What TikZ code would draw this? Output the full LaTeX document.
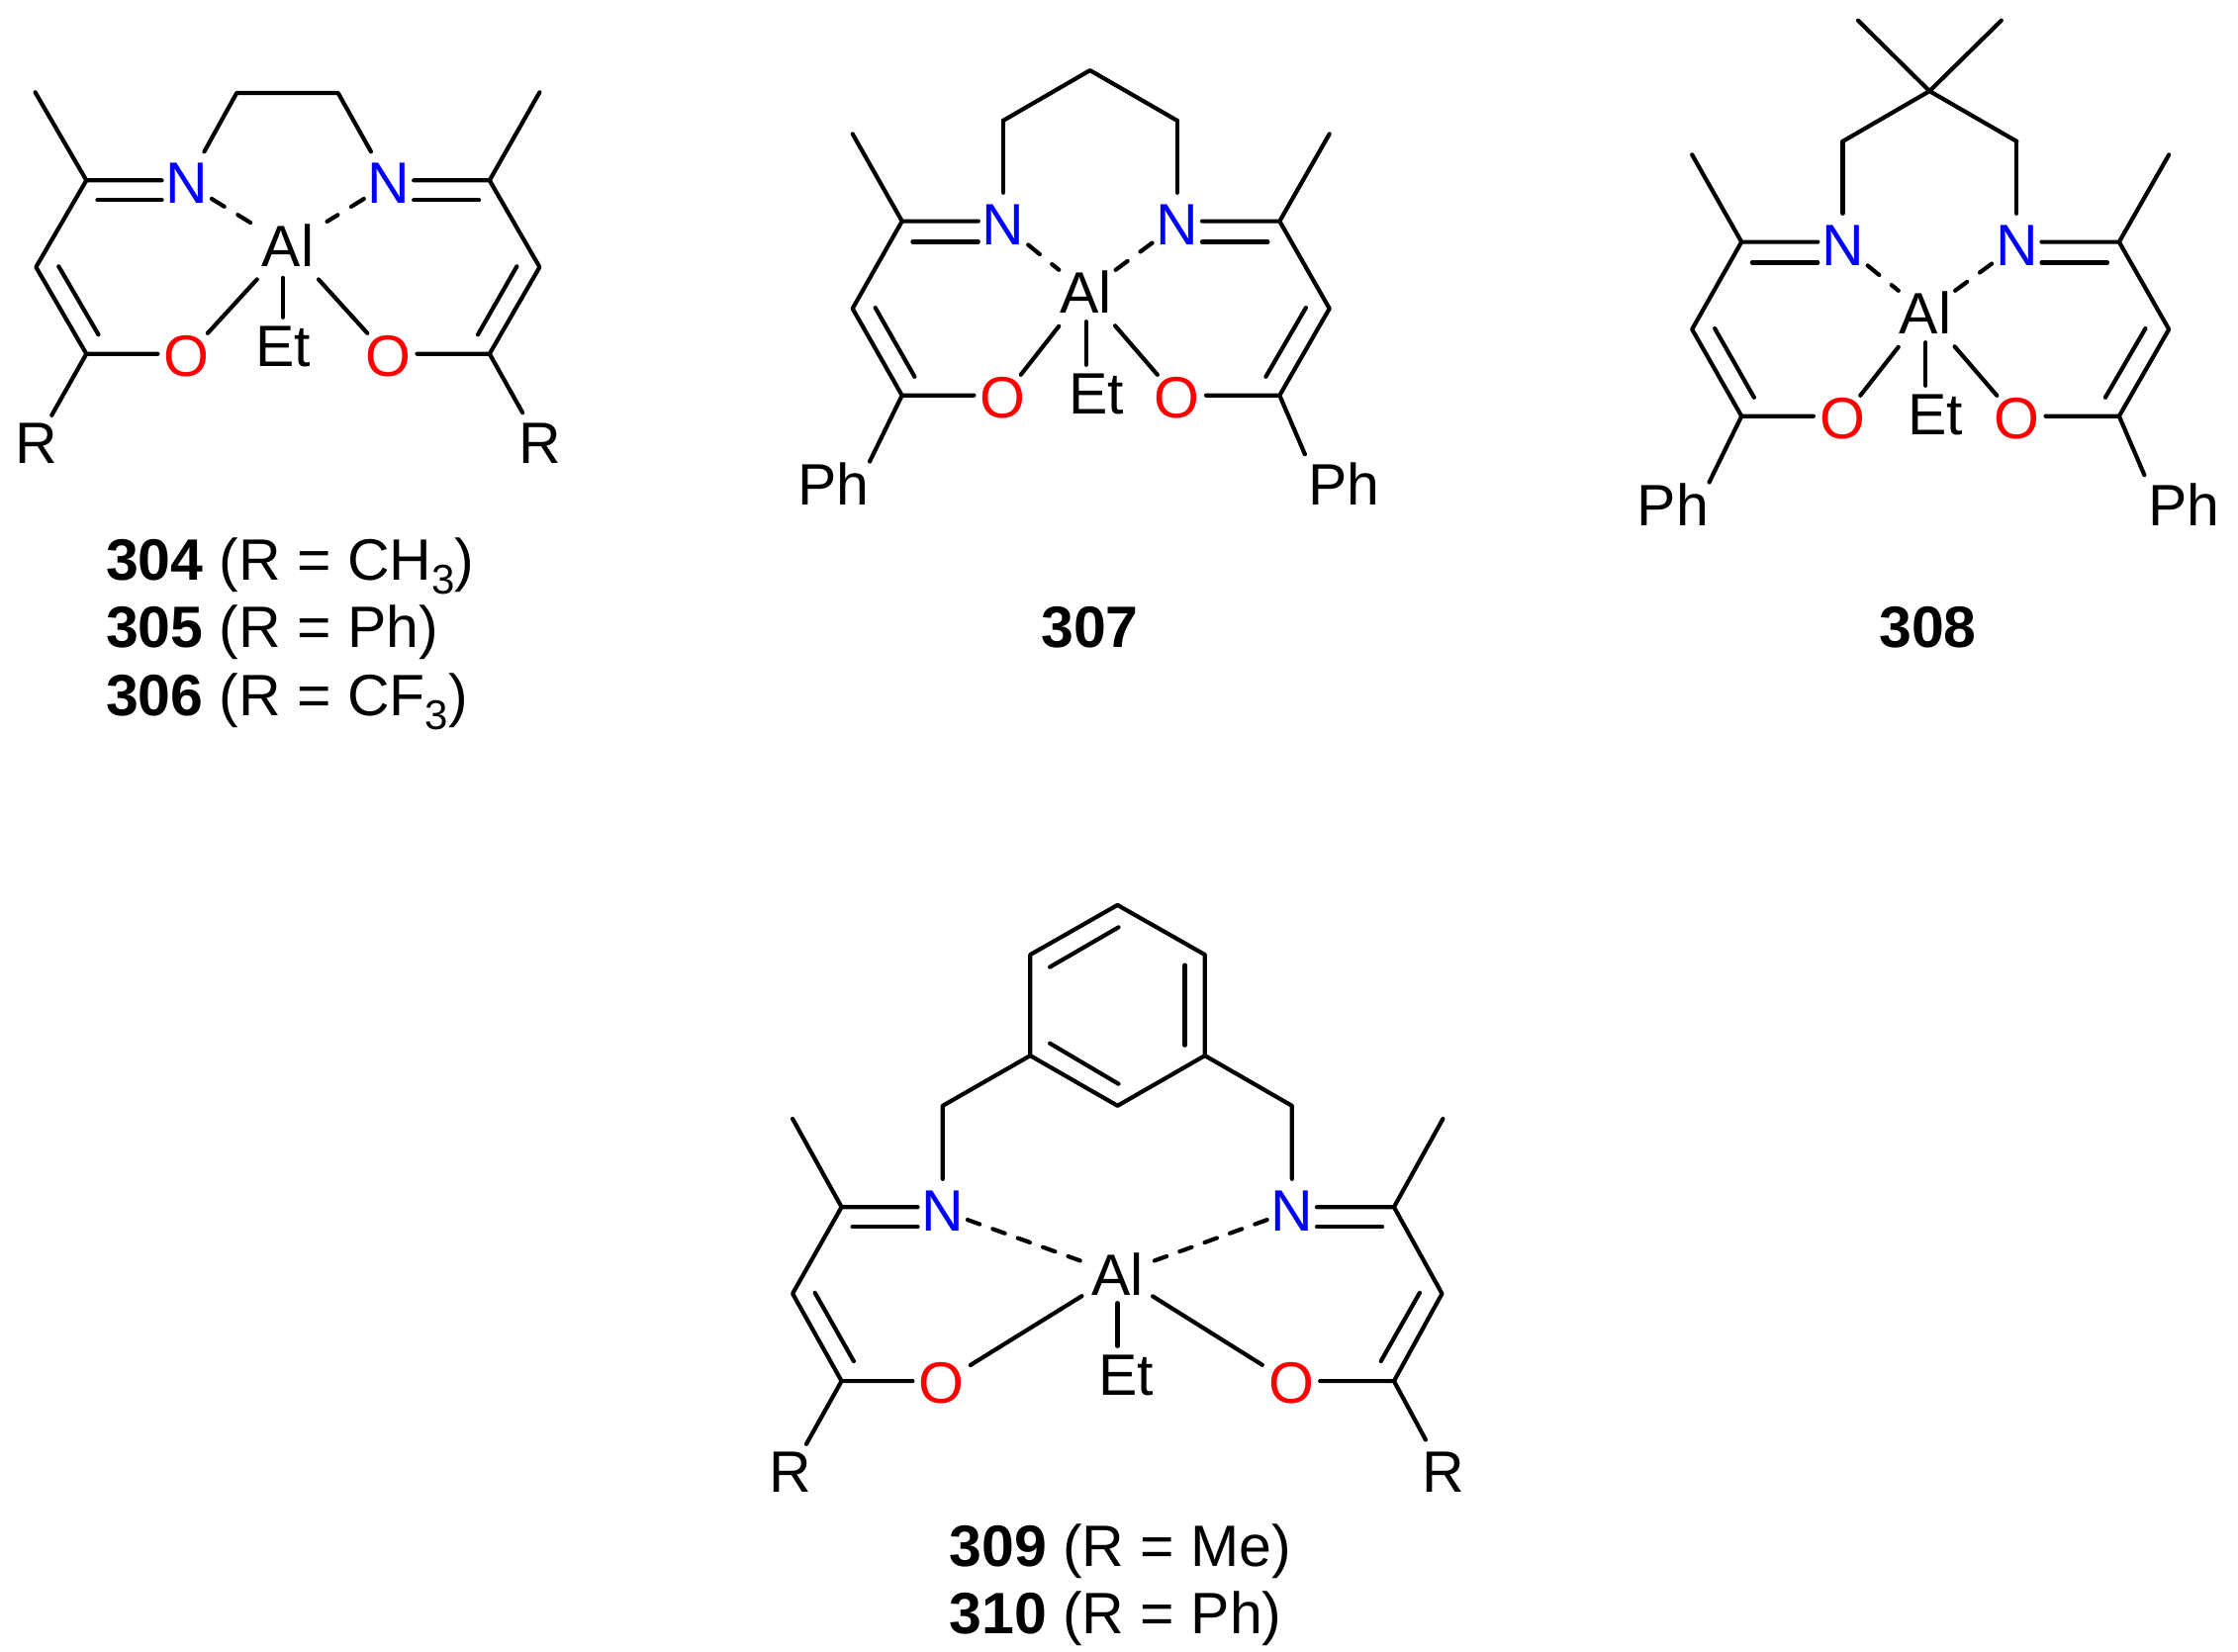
\documentclass[tikz,border=0pt]{standalone}
\usepackage{fontspec}
\setmainfont{Liberation Sans}
\newcommand\subs[1]{\raisebox{-0.24em}{\fontsize{42}{42}\selectfont #1}}
\tikzset{
  bond/.style={line width=4.2pt,line cap=round,line join=round,black},
  dbond/.style={bond,dash pattern=on 15pt off 16pt},
  atom/.style={inner sep=0pt,font=\fontsize{59}{60}\selectfont},
  natom/.style={atom,text=blue,minimum width=50pt,minimum height=64pt},
  oatom/.style={atom,text=red,minimum width=58pt,minimum height=46pt},
  ratom/.style={atom,minimum height=56pt},
  phatom/.style={atom,minimum width=71pt,minimum height=42pt},
  etatom/.style={atom,minimum height=58pt},
  label/.style={inner sep=0pt,font=\fontsize{59}{60}\selectfont},
}
% one arm of the ligand: prefix, side, side of the atom box, far-end target, style of that bond
\newcommand\onearm[5]{
  \draw[bond] (#1me#2) -- (#1c#2) -- (#1c#2 -| #1n#2.#3);
  \draw[bond] (#1i#2) -- (#1i#2 -| #1n#2.#3);
  \draw[bond] (#1c#2) -- (#1h#2) -- (#1d#2) -- (#1d#2 -| #1o#2.#3);
  \draw[bond] (#1s#2) -- (#1t#2);
  \draw[bond,#5] (#1d#2) -- (#4);
  \draw[dbond,dash#2] (#1n#2) -- (#1al);
  \draw[bond,alo] (#1al) -- (#1o#2);
}
\newcommand\ethyl[1]{\draw[bond,ale] (#1k |- #1al.south) -- (#1k |- #1et.north);}
% the two propane-type ligands (307 and 308) share all positions
\newcommand\phmol[1]{
  \coordinate (#1me1) at (1710.2,156.4);
  \coordinate (#1c1) at (1760.2,244.6);
  \coordinate (#1i1) at (1770.9,265.4);
  \coordinate (#1h1) at (1710.2,332.9);
  \coordinate (#1d1) at (1760.2,420.7);
  \coordinate (#1s1) at (1733.2,332.1);
  \coordinate (#1t1) at (1772.9,401.8);
  \coordinate (#1me2) at (2192.2,156.4);
  \coordinate (#1c2) at (2141.8,244.6);
  \coordinate (#1i2) at (2129.9,265.4);
  \coordinate (#1h2) at (2192.2,332.9);
  \coordinate (#1d2) at (2141.8,420.7);
  \coordinate (#1s2) at (2168.4,332.1);
  \coordinate (#1t2) at (2127.9,401.8);
  \coordinate (#1p1) at (1862.5,142.9);
  \coordinate (#1p2) at (2038.3,142.9);
  \coordinate (#1k) at (1946.2,0);
  \node[natom] (#1n1) at (1862.5,248) {N};
  \node[natom] (#1n2) at (2038.3,248) {N};
  \node[oatom] (#1o1) at (1862.1,423) {O};
  \node[oatom] (#1o2) at (2038.3,423) {O};
  \node[atom,minimum width=60pt,minimum height=44pt] (#1al) at (1946,316) {Al};
  \node[etatom] (#1et) at (1956.4,419) {Et};
  \node[phatom] (#1r1) at (1690.8,510) {Ph};
  \node[phatom] (#1r2) at (2207.2,510) {Ph};
  \onearm{#1}{1}{west}{#1r1.north east}{shorten >=1pt}
  \onearm{#1}{2}{east}{#1r2.north west}{shorten >=9pt}
  \ethyl{#1}
  \draw[bond] (#1n1) -- (#1p1);
  \draw[bond] (#1n2) -- (#1p2);
}
\begin{document}
\begin{tikzpicture}[x=1pt,y=-1pt]
\path[use as bounding box,fill=white] (0,0) rectangle (2262,1670);

% ---------- 304-306
\begin{scope}[alo/.style={shorten <=17pt},ale/.style={shorten <=11pt},dash1/.style={},dash2/.style={shorten >=11pt}]
  \coordinate (ame1) at (35.6,93.3);
  \coordinate (ac1) at (87.3,182.3);
  \coordinate (ai1) at (98.4,202.3);
  \coordinate (ah1) at (36.4,270);
  \coordinate (ad1) at (87.3,357.7);
  \coordinate (as1) at (59.3,269.3);
  \coordinate (at1) at (99.5,338.3);
  \coordinate (ame2) at (545.4,93.3);
  \coordinate (ac2) at (494.8,182.3);
  \coordinate (ai2) at (484.1,202.3);
  \coordinate (ah2) at (545.4,270);
  \coordinate (ad2) at (494.8,357.7);
  \coordinate (as2) at (522.4,269.3);
  \coordinate (at2) at (483,338.3);
  \coordinate (ap1) at (239.2,94);
  \coordinate (ap2) at (341.7,94);
  \coordinate (ak) at (285.9,0);
  \node[natom] (an1) at (188.7,185.5) {N};
  \node[natom] (an2) at (393,185.5) {N};
  \node[oatom] (ao1) at (188.7,360) {O};
  \node[oatom] (ao2) at (392.3,360) {O};
  \node[atom,minimum width=60pt,minimum height=34pt] (aal) at (291,248.3) {Al};
  \node[etatom] (aet) at (286.5,350) {Et};
  \node[ratom] (ar1) at (36.4,448) {R};
  \node[ratom] (ar2) at (545.4,448) {R};
  \onearm{a}{1}{west}{ar1}{shorten >=0pt}
  \onearm{a}{2}{east}{ar2}{shorten >=3pt}
  \ethyl{a}
  \draw[bond] (an1) -- (ap1) -- (ap2) -- (an2);
\end{scope}
\node[label,anchor=base west] (la) at (106.8,586) {\textbf{304} (R = CH\subs{3})};
\node[label,anchor=base west] (lb) at (106.8,654) {\textbf{305} (R = Ph)};
\node[label,anchor=base west] (lc) at (106.8,723) {\textbf{306} (R = CF\subs{3})};

% ---------- 307
\begin{scope}[shift={(-848.5,-21)},alo/.style={shorten <=16pt},ale/.style={shorten <=8pt},dash1/.style={},dash2/.style={}]
  \phmol{b}
  \coordinate (bq) at (1950.2,92.1);
  \draw[bond] (bp1) -- (bq) -- (bp2);
\end{scope}
\node[label,anchor=base] (ld) at (1101.5,654) {\textbf{307}};

% ---------- 308
\begin{scope}[alo/.style={shorten <=16pt},ale/.style={shorten <=8pt},dash1/.style={},dash2/.style={}]
  \phmol{c}
  \coordinate (cq) at (1950.2,92.1);
  \coordinate (cm1) at (1878,20.7);
  \coordinate (cm2) at (2022.8,20.7);
  \draw[bond] (cp1) -- (cq) -- (cp2);
  \draw[bond] (cm1) -- (cq) -- (cm2);
\end{scope}
\node[label,anchor=base] (le) at (1948.5,654) {\textbf{308}};

% ---------- 309-310
\begin{scope}[alo/.style={shorten <=9pt},ale/.style={shorten <=7pt},dash1/.style={dash pattern=on 13pt off 14pt},dash2/.style={dash pattern=on 13pt off 14pt,shorten >=6pt}]
  \coordinate (dme1) at (801.1,1131);
  \coordinate (dc1) at (850.6,1220.2);
  \coordinate (di1) at (861.5,1240.2);
  \coordinate (dh1) at (801.1,1307.7);
  \coordinate (dd1) at (850.6,1396.1);
  \coordinate (ds1) at (823.7,1306.9);
  \coordinate (dt1) at (862.9,1376);
  \coordinate (dme2) at (1458.4,1131);
  \coordinate (dc2) at (1408.9,1220.2);
  \coordinate (di2) at (1397.1,1240.2);
  \coordinate (dh2) at (1457.5,1307.7);
  \coordinate (dd2) at (1408.9,1396.1);
  \coordinate (ds2) at (1434.9,1306.9);
  \coordinate (dt2) at (1395.7,1376);
  \coordinate (dk) at (1129.5,0);
  \coordinate (dp1) at (952.8,1117.8);
  \coordinate (dp2) at (1305.8,1117.8);
  \coordinate (rt) at (1129.5,914.9);
  \coordinate (rul) at (1041.3,965.1);
  \coordinate (rur) at (1217.8,965.1);
  \coordinate (rll) at (1041.3,1067.1);
  \coordinate (rlr) at (1217.8,1067.1);
  \coordinate (rb) at (1129.5,1117.8);
  \coordinate (ra1) at (1061.1,977.6);
  \coordinate (ra2) at (1130.5,937.4);
  \coordinate (rb1) at (1197.5,975.6);
  \coordinate (rb2) at (1197.5,1056.7);
  \coordinate (rc1) at (1061.1,1054.7);
  \coordinate (rc2) at (1130.5,1095.7);
  \node[natom] (dn1) at (952.8,1224) {N};
  \node[natom] (dn2) at (1305.8,1224) {N};
  \node[oatom] (do1) at (951.6,1398) {O};
  \node[oatom] (do2) at (1305,1398) {O};
  \node[atom,minimum width=56pt,minimum height=44pt] (dal) at (1129.3,1288) {Al};
  \node[etatom] (det) at (1138,1390) {Et};
  \node[ratom] (dr1) at (799.2,1488) {R};
  \node[ratom] (dr2) at (1458.5,1488) {R};
  \onearm{d}{1}{west}{dr1}{shorten >=0pt}
  \onearm{d}{2}{east}{dr2}{shorten >=5pt}
  \ethyl{d}
  \draw[bond] (dn1) -- (dp1) -- (rll);
  \draw[bond] (dn2) -- (dp2) -- (rlr);
  \draw[bond] (rt) -- (rul) -- (rll) -- (rb) -- (rlr) -- (rur) -- cycle;
  \draw[bond] (ra1) -- (ra2);
  \draw[bond] (rb1) -- (rb2);
  \draw[bond] (rc1) -- (rc2);
\end{scope}
\node[label,anchor=base west] (lf) at (959.3,1583) {\textbf{309} (R = Me)};
\node[label,anchor=base west] (lg) at (959.3,1651) {\textbf{310} (R = Ph)};
\end{tikzpicture}
\end{document}
